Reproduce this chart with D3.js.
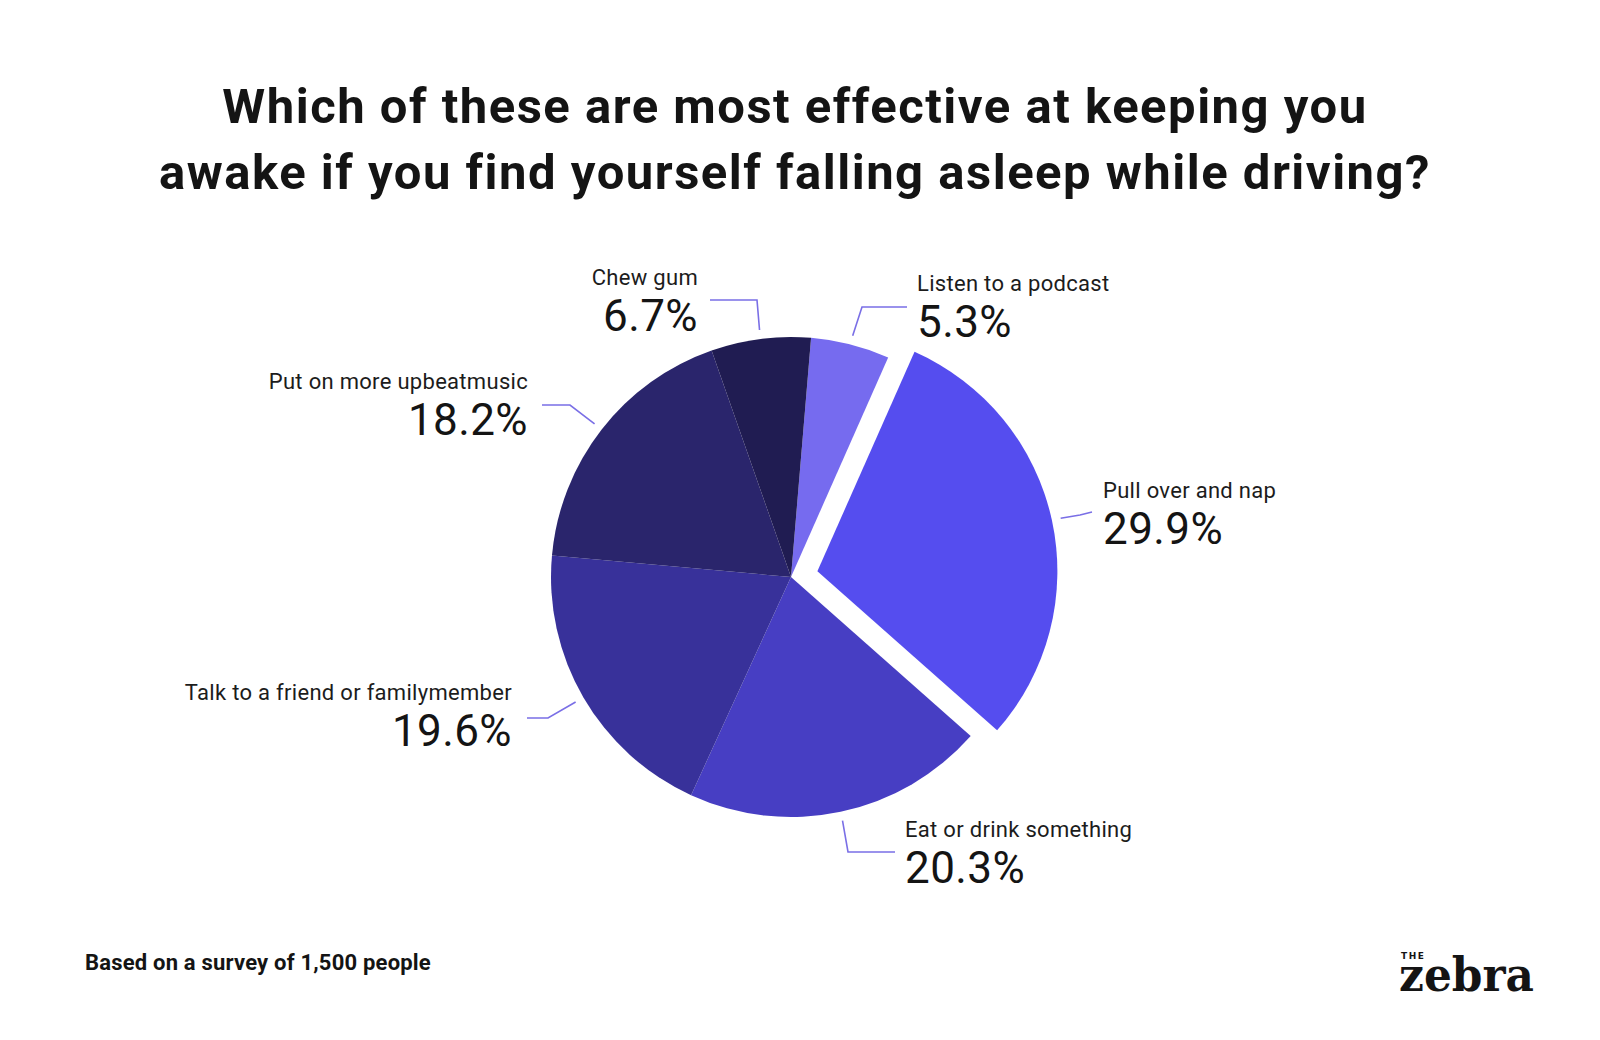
<!DOCTYPE html>
<html>
<head>
<meta charset="utf-8">
<script src="https://cdn.jsdelivr.net/npm/d3@7"></script>
<style>
  html, body { margin: 0; padding: 0; background: #fff; }
  svg { display: block; font-family: Roboto, "Noto Sans", sans-serif; }
</style>
</head>
<body>
<svg id="chart" width="1600" height="1040"></svg>
<script>
// Survey answers, clockwise from the top
const categories = ["Listen to a podcast", "Pull over and nap", "Eat or drink something",
                    "Talk to a friend or familymember", "Put on more upbeatmusic", "Chew gum"];
const shares = [5.3, 29.9, 20.3, 19.6, 18.2, 6.7];
const sliceColors = ["#766bef", "#554def", "#473ec3", "#38319a", "#2a256c", "#201c52"];
const exploded = "Pull over and nap";

// label layout: elbow point, line end, text anchor
const labelLayout = {
  "Listen to a podcast":              { elbow: [862, 307], end: [907, 307], tx: 917, ty: 291, anchor: "start" },
  "Pull over and nap":                { elbow: [1080, 515], end: [1092, 512], tx: 1103, ty: 498, anchor: "start" },
  "Eat or drink something":           { elbow: [848, 852], end: [895, 852], tx: 905, ty: 837, anchor: "start" },
  "Talk to a friend or familymember": { elbow: [548, 718], end: [527, 718], tx: 512, ty: 700, anchor: "end" },
  "Put on more upbeatmusic":          { elbow: [570, 405], end: [542, 405], tx: 528, ty: 389, anchor: "end" },
  "Chew gum":                         { elbow: [757, 300], end: [710, 300], tx: 698, ty: 285, anchor: "end" }
};

const svg = d3.select("#chart");
const cx = 791, cy = 577, radius = 240, explodeBy = 27;

// title
const title = svg.append("text")
  .attr("x", 795)
  .attr("text-anchor", "middle")
  .attr("font-weight", 700)
  .attr("font-size", "49px")
  .attr("letter-spacing", "1.5px")
  .attr("fill", "#141414");
title.append("tspan").attr("x", 795).attr("y", 123)
  .text("Which of these are most effective at keeping you");
title.append("tspan").attr("x", 795).attr("y", 189)
  .text("awake if you find yourself falling asleep while driving?");

const data = categories.map((c, i) => ({ name: c, value: shares[i], color: sliceColors[i] }));

const pie = d3.pie()
  .sort(null)
  .value(d => d.value)
  .startAngle(4.8 * Math.PI / 180)
  .endAngle(4.8 * Math.PI / 180 + 2 * Math.PI);

const arcs = pie(data);
const arc = d3.arc().innerRadius(0).outerRadius(radius);

function offsetOf(d) {
  if (d.data.name !== exploded) return [0, 0];
  const a = (d.startAngle + d.endAngle) / 2;
  return [Math.sin(a) * explodeBy, -Math.cos(a) * explodeBy];
}

const g = svg.append("g").attr("transform", `translate(${cx},${cy})`);

g.selectAll("path.slice")
  .data(arcs)
  .enter().append("path")
  .attr("class", "slice")
  .attr("d", arc)
  .attr("fill", d => d.data.color)
  .attr("transform", d => `translate(${offsetOf(d)})`);

// leader lines
const line = d3.line();
svg.append("g").selectAll("path.leader")
  .data(arcs)
  .enter().append("path")
  .attr("class", "leader")
  .attr("fill", "none")
  .attr("stroke", "#7a6fe6")
  .attr("stroke-width", 1.6)
  .attr("d", d => {
    const a = (d.startAngle + d.endAngle) / 2;
    const off = offsetOf(d);
    const r = radius + 9;
    const start = [cx + off[0] + Math.sin(a) * r, cy + off[1] - Math.cos(a) * r];
    const L = labelLayout[d.data.name];
    return line([start, L.elbow, L.end]);
  });

// labels
const labels = svg.append("g").selectAll("g.label")
  .data(arcs)
  .enter().append("g")
  .attr("class", "label");

labels.append("text")
  .attr("x", d => labelLayout[d.data.name].tx)
  .attr("y", d => labelLayout[d.data.name].ty)
  .attr("text-anchor", d => labelLayout[d.data.name].anchor)
  .attr("font-size", "22px")
  .attr("letter-spacing", "0.3px")
  .attr("fill", "#1c1c1c")
  .text(d => d.data.name);

labels.append("text")
  .attr("x", d => labelLayout[d.data.name].tx)
  .attr("y", d => labelLayout[d.data.name].ty + 46)
  .attr("text-anchor", d => labelLayout[d.data.name].anchor)
  .attr("font-size", "44px")
  .attr("letter-spacing", "0.4px")
  .attr("fill", "#141414")
  .text(d => d.data.value.toFixed(1) + "%");

// footer
svg.append("text")
  .attr("x", 85)
  .attr("y", 970)
  .attr("font-weight", 700)
  .attr("font-size", "22px")
  .attr("letter-spacing", "0.2px")
  .attr("fill", "#141414")
  .text("Based on a survey of 1,500 people");

// logo
svg.append("text")
  .attr("x", 1401)
  .attr("y", 959)
  .attr("font-family", "'DejaVu Sans', sans-serif")
  .attr("font-weight", 700)
  .attr("font-size", "9px")
  .attr("fill", "#141414")
  .attr("textLength", 23)
  .text("THE");
svg.append("text")
  .attr("x", 1399)
  .attr("y", 991)
  .attr("font-family", "'DejaVu Serif', serif")
  .attr("font-weight", 700)
  .attr("font-size", "46px")
  .attr("fill", "#141414")
  .attr("textLength", 135)
  .attr("lengthAdjust", "spacingAndGlyphs")
  .text("zebra");
</script>
</body>
</html>
